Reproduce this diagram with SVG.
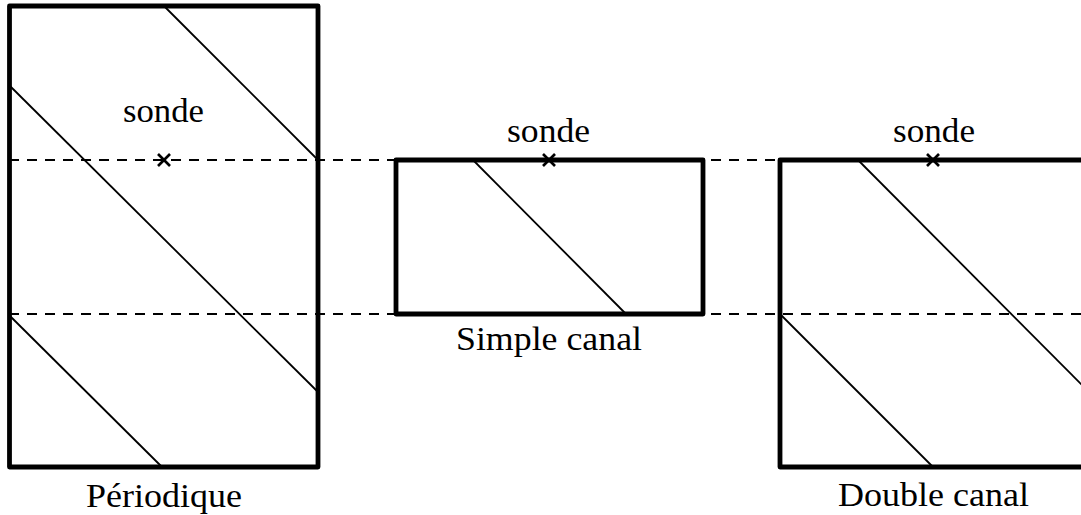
<svg xmlns="http://www.w3.org/2000/svg" width="1081" height="515" viewBox="0 0 1081 515">
<style>
.box{fill:none;stroke:#000;stroke-width:4.8;stroke-linejoin:round}
.ray{stroke:#000;stroke-width:1.8;fill:none}
.dash{stroke:#000;stroke-width:1.8;stroke-dasharray:10 8;fill:none}
.probe{stroke:#000;stroke-width:2.6}
text{font-family:"Liberation Serif","Times New Roman",serif;font-size:33px;fill:#000}
</style>
<rect width="1081" height="515" fill="#fff"/>
<g id="connectors">
<line class="dash" x1="9" y1="160" x2="1090" y2="160"/>
<line class="dash" x1="9" y1="314" x2="1090" y2="314"/>
</g>
<g id="periodique">
<line class="ray" x1="164" y1="6" x2="318" y2="160"/>
<line class="ray" x1="9" y1="85" x2="318" y2="392"/>
<line class="ray" x1="9" y1="315" x2="162" y2="467"/>
<rect class="box" x="9.5" y="6" width="308.5" height="461"/>
<line class="probe" x1="158" y1="154" x2="170" y2="166"/>
<line class="probe" x1="170" y1="154" x2="158" y2="166"/>
<text x="123" y="122" textLength="81" lengthAdjust="spacingAndGlyphs">sonde</text>
<text x="86" y="507" textLength="156" lengthAdjust="spacingAndGlyphs">Périodique</text>
</g>
<g id="simple">
<line class="ray" x1="473" y1="160" x2="626" y2="314"/>
<rect class="box" x="396" y="160" width="307" height="154"/>
<line class="probe" x1="543" y1="154" x2="555" y2="166"/>
<line class="probe" x1="555" y1="154" x2="543" y2="166"/>
<text x="507" y="142" textLength="83" lengthAdjust="spacingAndGlyphs">sonde</text>
<text x="456" y="350" textLength="186" lengthAdjust="spacingAndGlyphs">Simple canal</text>
</g>
<g id="double">
<line class="ray" x1="858" y1="160" x2="1088" y2="391"/>
<line class="ray" x1="780" y1="314" x2="933" y2="467"/>
<rect class="box" x="780" y="160" width="308" height="307"/>
<line class="probe" x1="927" y1="154" x2="939" y2="166"/>
<line class="probe" x1="939" y1="154" x2="927" y2="166"/>
<text x="893" y="142" textLength="82" lengthAdjust="spacingAndGlyphs">sonde</text>
<text x="838" y="506" textLength="191" lengthAdjust="spacingAndGlyphs">Double canal</text>
</g>
</svg>
